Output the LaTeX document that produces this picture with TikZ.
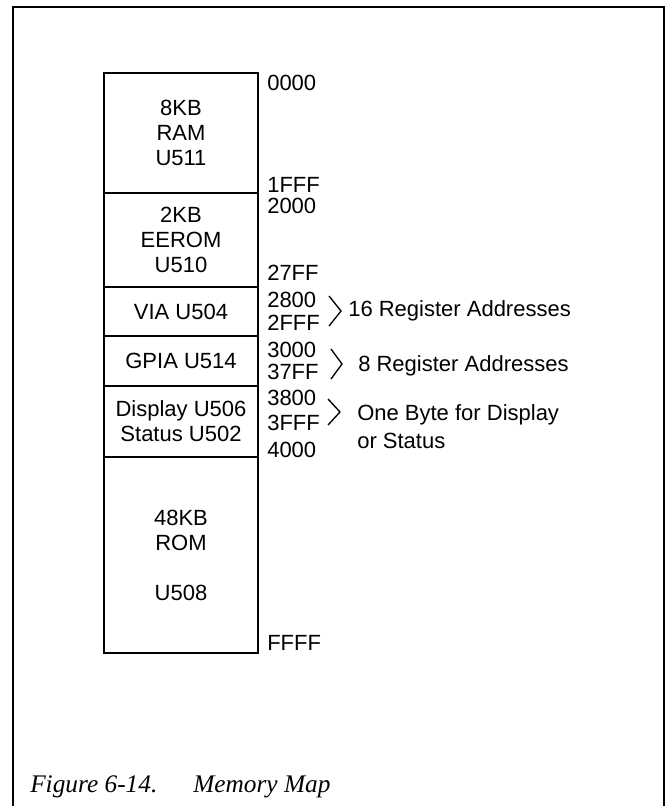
\documentclass[tikz,border=0pt]{standalone}
\usepackage{fontspec}
\setsansfont{Liberation Sans}
\newfontfamily\capserif{Liberation Serif}
\usetikzlibrary{positioning}
\newcommand{\mapfont}{\sffamily\fontsize{16.5}{18.75}\selectfont}
\newcommand{\capfont}{\capserif\itshape\fontsize{19}{22}\selectfont}
\tikzset{seg/.style={draw,line width=1.2pt,minimum width=115.5pt,inner sep=0pt,outer sep=0pt,align=center,font=\mapfont},
  addr/.style={anchor=west,inner sep=0pt,font=\mapfont},
  note/.style={anchor=base west,inner sep=0pt,font=\mapfont},
  chev/.style={line width=1pt},
  framebox/.style={line width=1.6pt},
  captext/.style={anchor=base west,inner sep=0pt,font=\capfont}}

\begin{document}
\begin{tikzpicture}[x=0.75pt,y=-0.75pt]
\useasboundingbox (0,0) rectangle (667,806);
\draw[framebox] (13,806) -- (13,7) -- (664,7) -- (664,806);
% memory blocks, top to bottom
\node[seg,minimum height=90pt] (ram) at (181,133) {8KB\\RAM\\U511};
\node[seg,minimum height=70.5pt,below=0pt of ram] (eerom) {2KB\\EEROM\\U510};
\node[seg,minimum height=36.75pt,below=0pt of eerom] (via) {VIA U504};
\node[seg,minimum height=37.5pt,below=0pt of via] (gpia) {GPIA U514};
\node[seg,minimum height=53.25pt,below=0pt of gpia] (disp) {Display U506\\Status U502};
\node[seg,minimum height=147pt,below=0pt of disp] (rom) {48KB\\ROM\\[18.75pt]U508};
% addresses
\foreach \y/\t in {83/0000,185/1FFF,206/2000,273/27FF,300/2800,323/2FFF,
  350/3000,372/37FF,398/3800,423/3FFF,450/4000,643/FFFF}
  \node[addr] (a\t) at (267,\y) {\t};
% register ranges
\draw[chev] (329,296) -- (341,311) -- (329,326);
\draw[chev] (331,349) -- (342,364) -- (331,379);
\draw[chev] (328,399) -- (340,412) -- (328,425);
\node[note] (n16) at (348,316) {16 Register Addresses};
\node[note] (n8) at (358,371) {8 Register Addresses};
\node[note] (nbyte) at (357,420) {One Byte for Display};
\node[note] (nstat) at (357,448) {or Status};
% caption
\node[captext] (fig) at (30,792) {Figure 6-14.};
\node[captext] (figname) at (193,792) {Memory Map};
\end{tikzpicture}
\end{document}
